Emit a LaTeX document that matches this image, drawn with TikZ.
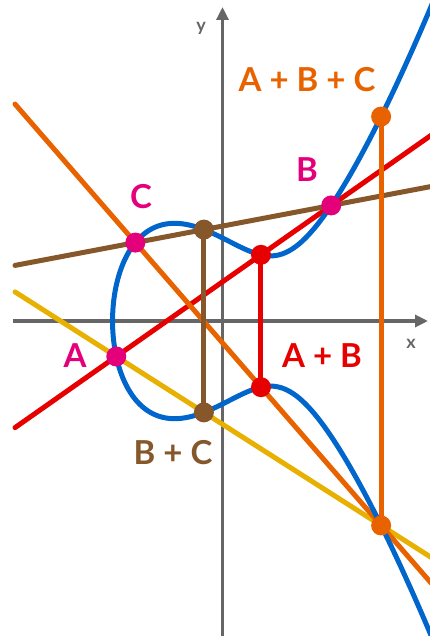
\documentclass[tikz,border=0pt]{standalone}
\usepackage{fontspec}
\setmainfont{Lato}
\usetikzlibrary{arrows.meta}
\definecolor{cblue}{RGB}{0,102,204}
\definecolor{cred}{RGB}{230,0,0}
\definecolor{corange}{RGB}{232,98,0}
\definecolor{cbrown}{RGB}{133,87,42}
\definecolor{cyellow}{RGB}{232,176,0}
\definecolor{cmag}{RGB}{228,0,122}
\definecolor{cgray}{RGB}{102,102,102}
\begin{document}
\begin{tikzpicture}[x=83pt,y=83pt,
  axis/.style={draw=cgray, line width=3.2pt, -{Triangle[length=13pt,width=12pt]}},
  ln/.style={line width=5pt, line cap=round, draw=#1},
  curve/.style={line width=5pt, draw=cblue},
  dot/.style={circle, fill=#1, inner sep=0pt, minimum size=20pt},
  lab/.style={font=\fontsize{33}{40}\selectfont\bfseries, text=#1, inner sep=0pt},
  axlab/.style={font=\fontsize{18}{22}\selectfont\bfseries, text=cgray, inner sep=0pt}]
\useasboundingbox (-222.5pt,-315pt) rectangle (207.5pt,321pt);
\clip (-222.5pt,-315pt) rectangle (207.5pt,321pt);
% points
\coordinate (A) at (-1.28,-0.42761);
\coordinate (B) at (1.31,1.39215);
\coordinate (C) at (-1.05,0.94466);
\coordinate (P) at (0.46366,0.79750);
\coordinate (Pm) at (0.46366,-0.79750);
\coordinate (Q) at (-0.22405,1.10127);
\coordinate (Qm) at (-0.22405,-1.10127);
\coordinate (R) at (1.91105,2.46345);
\coordinate (Rm) at (1.91105,-2.46345);
% line ends
\coordinate (r1) at (-2.5,-1.284794);
\coordinate (r2) at (2.7,2.368778);
\coordinate (o1) at (-2.5,2.613551);
\coordinate (o2) at (2.7,-3.371436);
\coordinate (b1) at (-2.5,0.66972);
\coordinate (b2) at (2.7,1.655713);
\coordinate (y1) at (-2.5,0.35072);
\coordinate (y2) at (2.7,-2.96675);
% axes
\coordinate (xa1) at (-2.52,0);
\coordinate (xa2) at (205.5pt,0);
\coordinate (ya1) at (0,-320pt);
\coordinate (ya2) at (0,314pt);
\draw[axis] (xa1) -- (xa2);
\draw[axis] (ya1) -- (ya2);
\node[axlab] (lx) at (188.5pt,-23pt) {x};
\node[axlab] (ly) at (-21.5pt,293pt) {y};
% lines
\draw[ln=cyellow] (y1) -- (y2);
\draw[ln=cred] (r1) -- (r2);
\draw[ln=cbrown] (b1) -- (b2);
\draw[ln=corange] (o1) -- (o2);
% curve y^2 = x^3 - x + 1
\draw[curve] plot[domain=-2.05:2.05, samples=300, smooth, variable=\t]
  ({\t*\t-1.324718}, {\t*sqrt((\t*\t-1.324718)*(\t*\t-1.324718) - 1.324718*(\t*\t-1.324718) + 0.754878)});
% verticals
\draw[ln=cred] (P) -- (Pm);
\draw[ln=cbrown] (Q) -- (Qm);
\draw[ln=corange] (R) -- (Rm);
% dots
\node[dot=cmag] (dA) at (A) {};
\node[dot=cmag] (dB) at (B) {};
\node[dot=cmag] (dC) at (C) {};
\node[dot=cred] (dP) at (P) {};
\node[dot=cred] (dPm) at (Pm) {};
\node[dot=cbrown] (dQ) at (Q) {};
\node[dot=cbrown] (dQm) at (Qm) {};
\node[dot=corange] (dR) at (R) {};
\node[dot=corange] (dRm) at (Rm) {};
% labels
\node[lab=cmag] (lC) at (-81.5pt,124pt) {C};
\node[lab=cmag] (lA) at (-147.5pt,-35pt) {A};
\node[lab=cmag] (lB) at (84.5pt,151pt) {B};
\node[lab=corange] (lABC) at (84.5pt,241pt) {A + B + C};
\node[lab=cred] (lAB) at (99.5pt,-35pt) {A + B};
\node[lab=cbrown] (lBC) at (-49.5pt,-132pt) {B + C};
\end{tikzpicture}
\end{document}
